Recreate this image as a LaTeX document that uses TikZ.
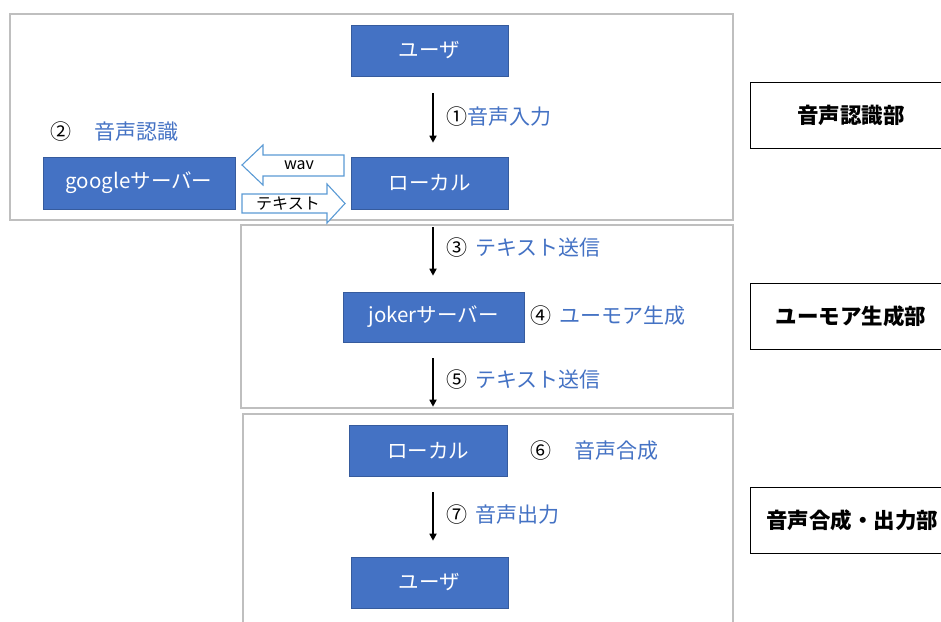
\documentclass[tikz,border=0pt]{standalone}
\usepackage{fontspec}
\setmainfont{Noto Sans CJK JP}
\usetikzlibrary{arrows.meta}
\definecolor{boxblue}{HTML}{4472C4}
\definecolor{lblue}{HTML}{4472C4}
\definecolor{arrblue}{HTML}{5B9BD5}
\definecolor{framegray}{HTML}{BFBFBF}
\tikzset{
  frame/.style={draw=framegray, line width=1.6pt},
  bbox/.style={draw=boxblue!80!black, line width=0.6pt, fill=boxblue, text=white, font=\fontsize{20.5}{22}\selectfont, inner sep=0pt},
  sect/.style={draw=black, line width=0.9pt, fill=white},
  secttext/.style={font=\fontsize{21.5}{24}\selectfont\bfseries, anchor=center},
  arr/.style={-{Triangle[length=7pt,width=7pt]}, line width=1.6pt, black},
  lab/.style={anchor=west, font=\fontsize{21}{24}\selectfont, inner sep=0pt},
  blk/.style={draw=arrblue, line width=1.1pt, fill=white},
  blktext/.style={font=\fontsize{16}{18}\selectfont, inner sep=0pt}
}
\newcommand{\bl}[1]{\textcolor{lblue}{#1}}
\begin{document}
\begin{tikzpicture}[x=1pt,y=-1pt]
\useasboundingbox (0,0) rectangle (941,621);
\clip (0,0) rectangle (941,621);
\fill[white] (0,0) rectangle (941,621);
% frames
\draw[frame] (10,14) rectangle (733,220);
\draw[frame] (241,225) rectangle (733,408);
\draw[frame] (243,414) rectangle (733,640);
% blue boxes
\node[bbox, minimum width=157pt, minimum height=51pt] (u1) at (429.5,50.5) {ユーザ};
\node[bbox, minimum width=157pt, minimum height=52pt] (l1) at (429.5,183) {ローカル};
\node[bbox, minimum width=192pt, minimum height=52pt] (g) at (139,183) {googleサーバー};
\node[bbox, minimum width=181pt, minimum height=50pt] (j) at (433.5,317) {jokerサーバー};
\node[bbox, minimum width=158pt, minimum height=51pt] (l2) at (428,450.5) {ローカル};
\node[bbox, minimum width=157pt, minimum height=51pt] (u2) at (429.5,582.5) {ユーザ};
% vertical arrows
\draw[arr, shorten <=17pt, shorten >=14pt] ([xshift=3.5pt]u1.south) -- ([xshift=3.5pt]u1.south |- l1.north);
\draw[arr, shorten <=18pt, shorten >=16pt] ([xshift=3.5pt]l1.south) -- ([xshift=3.5pt]l1.south |- j.north);
\draw[arr, shorten <=16pt, shorten >=18pt] ([xshift=3.5pt]l1.south |- j.south) -- ([xshift=3.5pt]l1.south |- l2.north);
\draw[arr, shorten <=16pt, shorten >=16pt] ([xshift=3.5pt]l1.south |- l2.south) -- ([xshift=3.5pt]l1.south |- u2.north);
% labels
\node[lab] (t1) at (446,117) {①\bl{音声入力}};
\node[lab] (t2) at (50,132) {②\hspace{1.1em}\bl{音声認識}};
\node[lab] (t3) at (446,248) {③\hspace{0.4em}\bl{テキスト送信}};
\node[lab] (t4) at (530,316) {④\hspace{0.4em}\bl{ユーモア生成}};
\node[lab] (t5) at (446,380) {⑤\hspace{0.4em}\bl{テキスト送信}};
\node[lab] (t6) at (530,451) {⑥\hspace{1.1em}\bl{音声合成}};
\node[lab] (t7) at (446,515) {⑦\hspace{0.4em}\bl{音声出力}};
% block arrows
\draw[blk] (242,165) -- (263,145) -- (263,155) -- (344,155) -- (344,176) -- (263,176) -- (263,185) -- cycle;
\node[blktext] (wav) at (299,165) {wav};
\draw[blk] (242,194) -- (327,194) -- (327,184) -- (345,203.5) -- (327,223) -- (327,213) -- (242,213) -- cycle;
\node[blktext] (txt) at (288,203.5) {テキスト};
% section boxes
\draw[sect] (750,82) rectangle (960,148);
\node[secttext] (s1) at (851,115) {音声認識部};
\draw[sect] (750,283) rectangle (960,349);
\node[secttext] (s2) at (851,316) {ユーモア生成部};
\draw[sect] (750,487) rectangle (960,553);
\node[secttext] (s3) at (852,520) {音声合成・出力部};
\end{tikzpicture}
\end{document}
